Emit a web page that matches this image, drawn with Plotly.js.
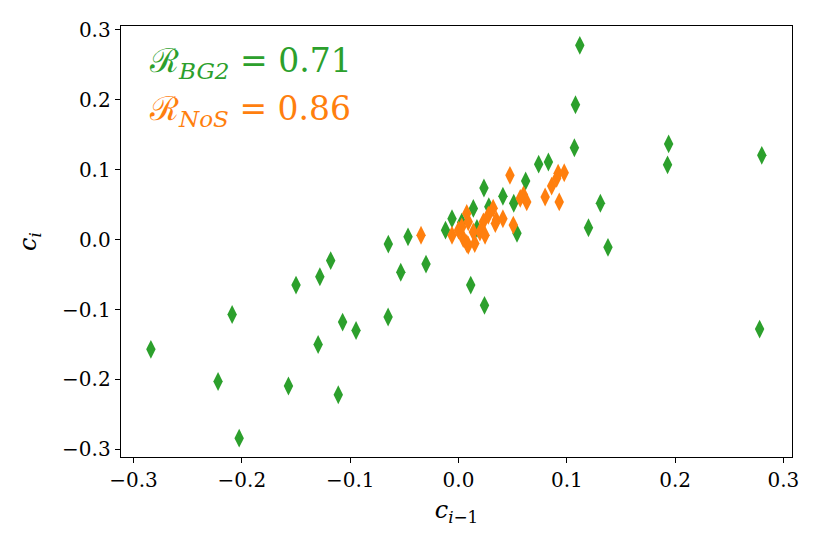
<!DOCTYPE html>
<html>
<head>
<meta charset="utf-8">
<script src="https://cdn.plot.ly/plotly-3.0.1.min.js"></script>
<style>
  html, body { margin: 0; padding: 0; background: #fff; }
  #chart { width: 822px; height: 548px; }
</style>
</head>
<body>
<div id="chart"></div>
<script>
// BG2 series (green)
var bg2_x = [-0.284, -0.222, -0.209, -0.2025, -0.157, -0.150, -0.1296, -0.128, -0.118, -0.111,
             -0.107, -0.0946, -0.065, -0.0648, -0.0533, -0.0466, -0.030, -0.012, -0.006, 0.003,
             0.0113, 0.0137, 0.017, 0.024, 0.0235, 0.028, 0.041, 0.051, 0.054, 0.062,
             0.074, 0.083, 0.107, 0.108, 0.112, 0.120, 0.131, 0.138, 0.193, 0.194,
             0.278, 0.280];
var bg2_y = [-0.157, -0.203, -0.107, -0.284, -0.2095, -0.065, -0.150, -0.053, -0.030, -0.222,
             -0.118, -0.130, -0.1106, -0.0064, -0.0466, 0.004, -0.035, 0.0136, 0.030, 0.025,
             -0.065, 0.0447, 0.016, -0.094, 0.074, 0.047, 0.062, 0.052, 0.009, 0.084,
             0.108, 0.111, 0.1315, 0.193, 0.278, 0.017, 0.052, -0.011, 0.107, 0.137,
             -0.128, 0.1206];

// NoS series (orange)
var nos_x = [-0.0346, -0.006, 0.0, 0.0044, 0.0076, 0.009, 0.009, 0.0137, 0.015, 0.0198,
             0.023, 0.0245, 0.0275, 0.032, 0.035, 0.041, 0.0475, 0.0506, 0.057, 0.060,
             0.063, 0.080, 0.086, 0.0906, 0.092, 0.0976, 0.093, 0.003, 0.034, 0.0076];
var nos_y = [0.0064, 0.0064, 0.0136, 0.0017, 0.0375, 0.0255, -0.008, 0.011, -0.0055, 0.011,
             0.0255, 0.0064, 0.035, 0.045, 0.028, 0.030, 0.092, 0.0208, 0.059, 0.064,
             0.054, 0.061, 0.0766, 0.0877, 0.095, 0.0957, 0.054, 0.018, 0.023, -0.0055];

var r_bg2 = "0.71";
var r_nos = "0.86";

var tick_vals = [-0.3, -0.2, -0.1, 0.0, 0.1, 0.2, 0.3];
var tick_text = ["\u22120.3", "\u22120.2", "\u22120.1", "0.0", "0.1", "0.2", "0.3"];

var GREEN = "#2ca02c";
var ORANGE = "#ff7f0e";
var FONT = "DejaVu Serif";

var data = [
  {
    x: bg2_x, y: bg2_y, type: "scatter", mode: "markers",
    marker: { symbol: "diamond-tall", size: 13.5, color: GREEN, line: { width: 0 } },
    hoverinfo: "none"
  },
  {
    x: nos_x, y: nos_y, type: "scatter", mode: "markers",
    marker: { symbol: "diamond-tall", size: 13.5, color: ORANGE, line: { width: 0 } },
    hoverinfo: "none"
  }
];

var axisCommon = {
  tickvals: tick_vals,
  ticktext: tick_text,
  ticks: "outside",
  ticklen: 5,
  tickwidth: 1,
  tickcolor: "#000",
  showline: true,
  linecolor: "#000",
  linewidth: 1.3,
  mirror: true,
  showgrid: false,
  zeroline: false,
  tickfont: { family: FONT, size: 20, color: "#000" }
};

var layout = {
  width: 822,
  height: 548,
  margin: { l: 121, r: 30, t: 26, b: 91 },
  paper_bgcolor: "#fff",
  plot_bgcolor: "#fff",
  showlegend: false,
  font: { family: FONT, color: "#000" },
  xaxis: Object.assign({}, axisCommon, {
    range: [-0.3116, 0.3079],
    title: { text: "<i>c</i><sub><i>i</i>\u22121</sub>", font: { family: FONT, size: 24 }, standoff: 10 }
  }),
  yaxis: Object.assign({}, axisCommon, {
    range: [-0.311, 0.3057],
    title: { text: "<i>c</i><sub><i>i</i></sub>", font: { family: FONT, size: 24 }, standoff: 18 }
  }),
  annotations: [
    {
      xref: "paper", yref: "paper", x: 0.039, y: 0.916, xanchor: "left", yanchor: "middle",
      showarrow: false,
      text: "\u211B<sub><i>BG2</i></sub> = " + r_bg2,
      font: { family: FONT, size: 33, color: GREEN }
    },
    {
      xref: "paper", yref: "paper", x: 0.039, y: 0.805, xanchor: "left", yanchor: "middle",
      showarrow: false,
      text: "\u211B<sub><i>NoS</i></sub> = " + r_nos,
      font: { family: FONT, size: 33, color: ORANGE }
    }
  ]
};

Plotly.newPlot("chart", data, layout, { displayModeBar: false, staticPlot: true });
</script>
</body>
</html>
